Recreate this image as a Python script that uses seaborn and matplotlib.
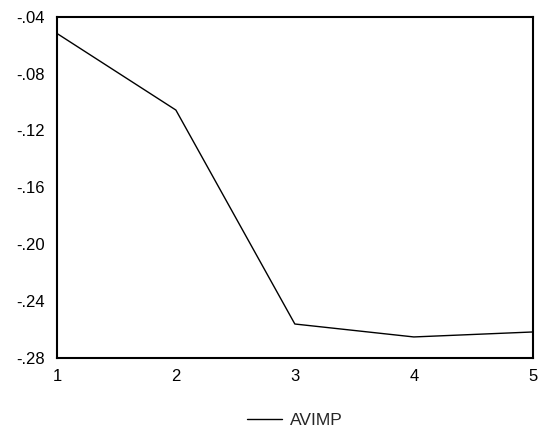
import seaborn as sns
import matplotlib.pyplot as plt
import pandas as pd
from matplotlib.ticker import FuncFormatter

periods = [1, 2, 3, 4, 5]
avimp = [-0.0518, -0.1057, -0.2562, -0.2653, -0.2618]
y_ticks = [-0.28, -0.24, -0.20, -0.16, -0.12, -0.08, -0.04]

df = pd.DataFrame({'period': periods, 'AVIMP': avimp})

sns.set_style('white')
plt.rcParams['font.family'] = ['Liberation Sans', 'DejaVu Sans']

fig = plt.figure(figsize=(5.42, 4.38), dpi=100)
ax = fig.add_axes([0.105, 0.183, 0.878, 0.779])

sns.lineplot(x='period', y='AVIMP', data=df, color='black', linewidth=1.0, ax=ax, label='AVIMP')

ax.set_xlim(1, 5)
ax.set_ylim(-0.28, -0.04)
ax.set_xticks(periods)
ax.set_yticks(y_ticks)
ax.yaxis.set_major_formatter(FuncFormatter(lambda v, p: ('%.2f' % v).replace('0.', '.')))
ax.set_xlabel('')
ax.set_ylabel('')

for s in ax.spines.values():
    s.set_color('black')
    s.set_linewidth(1.5)

ax.tick_params(axis='both', direction='out', length=4, width=1, colors='black', labelsize=12)
ax.tick_params(axis='y', color='gray', pad=5)
ax.tick_params(axis='x', pad=4)

ax.legend(loc='upper center', bbox_to_anchor=(0.5, -0.115), frameon=False, fontsize=12.5,
          handlelength=2.0, handletextpad=0.45)

plt.savefig('out.png', dpi=100)
